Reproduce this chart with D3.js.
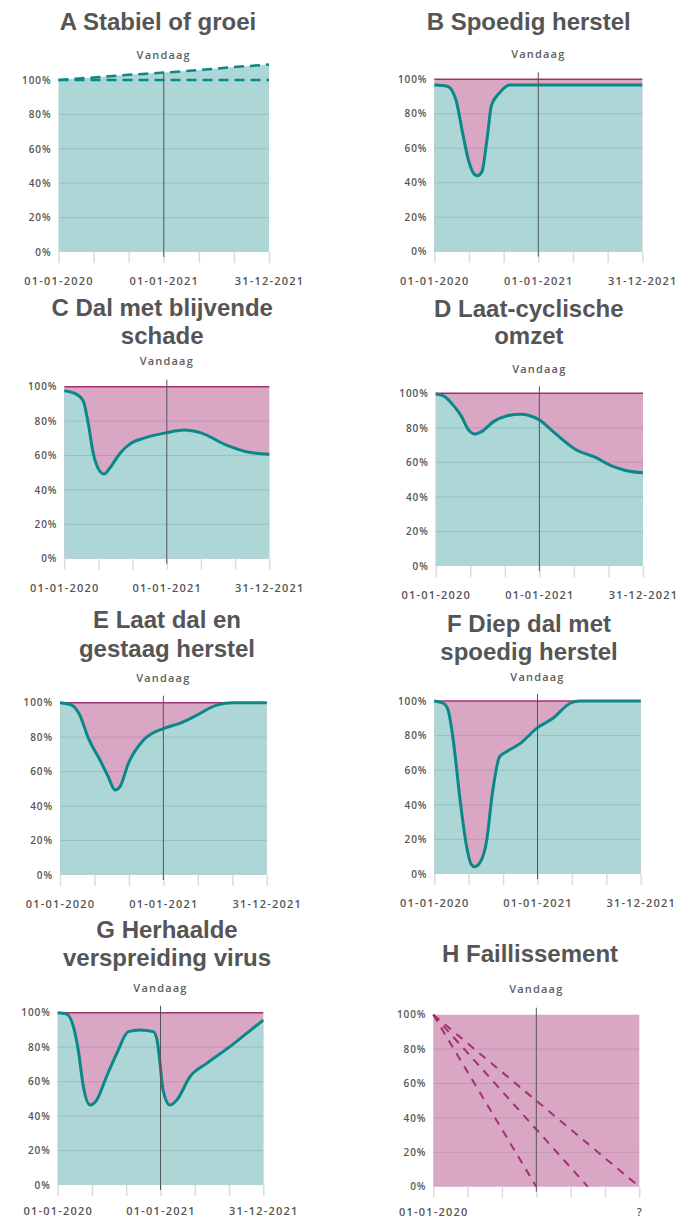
<!DOCTYPE html>
<html><head><meta charset="utf-8">
<script src="https://cdn.jsdelivr.net/npm/d3@7"></script>
<style>body{margin:0;background:#fff} svg{display:block}</style>
</head><body><svg id="c" width="680" height="1219"></svg>
<script>
// ---------- data ----------
const xTicks = [0, 4, 8, 12, 16, 20, 24];           // months since 01-01-2020
const xLabels = {0: "01-01-2020", 12: "01-01-2021", 24: "31-12-2021"};
const hLabels = {0: "01-01-2020", 24: "?"};
const yTicks = [0, 20, 40, 60, 80, 100];
const gridTicks = [20, 40, 60, 80];
const todayMonth = 12;
const todayLabel = "Vandaag";

const titleA = ["A Stabiel of groei"];
const titleB = ["B Spoedig herstel"];
const titleC = ["C Dal met blijvende", "schade"];
const titleD = ["D Laat-cyclische", "omzet"];
const titleE = ["E Laat dal en", "gestaag herstel"];
const titleF = ["F Diep dal met", "spoedig herstel"];
const titleG = ["G Herhaalde", "verspreiding virus"];
const titleH = ["H Faillissement"];

const aFlatMonths = [0, 24];
const aFlatValues = [100, 100];
const aGrowthMonths = [0, 4, 8, 12, 16, 20, 24];
const aGrowthValues = [100, 101.5, 103, 104.3, 105.8, 107.5, 109];

const bMonths = [0, 1.5, 2.5, 3.3, 4, 4.6, 5.0, 5.5, 6.1, 6.6, 7.5, 8.7, 12, 24];
const bValues = [96.7, 96, 88, 68, 52, 45, 44, 46.5, 66, 85, 92, 96.7, 96.7, 96.7];

const cMonths = [0, 1.4, 2.2, 2.8, 3.4, 4.2, 4.65, 5.3, 6.5, 7.9, 9.25, 12, 14.1, 15.9, 19, 21.3, 24];
const cValues = [97.7, 95.7, 92, 78.7, 61, 50.6, 49.2, 52.5, 61.2, 67.4, 70, 73.3, 74.8, 73.3, 66, 62.2, 60.7];

const dMonths = [0, 0.9, 2.05, 3, 3.8, 4.55, 5.3, 6.7, 8.2, 9.8, 10.9, 12, 13.6, 16.3, 18.3, 20.6, 22.1, 24];
const dValues = [99.6, 98.5, 93, 86.5, 78.8, 76.4, 77.8, 83.6, 86.9, 87.8, 87, 84.6, 77.8, 67.2, 63.3, 57.5, 55.2, 54];

const eMonths = [0, 1.35, 2.3, 3.3, 4.65, 5.6, 6.4, 6.97, 7.94, 9.7, 12, 13.9, 15.9, 18.2, 20.1, 24];
const eValues = [100, 98.6, 92.8, 79.3, 66.7, 57, 49.3, 51.3, 64.8, 78.3, 85, 88, 92.8, 98.6, 100, 100];

const fMonths = [0, 1.05, 1.6, 2.2, 3, 3.76, 4.3, 4.7, 5.3, 6.1, 6.7, 7.6, 8.4, 10, 11.9, 13.8, 15.8, 16.9, 24];
const fValues = [100, 98.7, 94.8, 77.5, 42.8, 15.8, 5.5, 4.2, 6.5, 19.7, 44.7, 67.8, 70.7, 75.5, 84.2, 90, 98.7, 100, 100];

const gMonths = [0, 1.05, 1.83, 2.4, 3, 3.77, 4.55, 5.7, 6.9, 8.25, 9.6, 11.16, 11.6, 11.9, 12.3, 13.1, 13.9, 15.45, 17.4, 20.1, 22.05, 24];
const gValues = [100, 99.2, 91.9, 78.3, 57, 46.4, 49.3, 62.9, 76.4, 89, 90, 89, 84, 72.5, 55, 46.4, 49.3, 62.9, 70.6, 80.3, 88, 95.7];

const hStartMonth = 0, hStartValue = 100;
const hEndMonths = [12, 18, 24];
const hEndValue = 0;

// ---------- style ----------
const TEAL_FILL = "#acd7d6", PINK_FILL = "#d9a6c4";
const TEAL_LINE = "#0a8888", MAGENTA = "#a3306f";
const TEXT = "#555", GRID = "rgba(40,40,60,0.13)";
const AX_FONT = "'Open Sans', sans-serif";

// ---------- layout ----------
const panels = [
  {title: titleA, tx: 158,   ty: [30],            vy: 59.3,  l: 58.5,  r: 269,   t: 80,     b: 252,    lab: 29, kind: "A"},
  {title: titleB, tx: 528.7, ty: [30],            vy: 58.3,  l: 434.3, r: 642.3, t: 79.3,   b: 251.7,  lab: 29, kind: "curve", m: bMonths, v: bValues},
  {title: titleC, tx: 162.2, ty: [316, 344],      vy: 365,   l: 64.3,  r: 269.3, t: 386.7,  b: 558.7,  lab: 29, kind: "curve", m: cMonths, v: cValues},
  {title: titleD, tx: 528.8, ty: [316.7, 344.3],  vy: 372.7, l: 435.7, r: 643,   t: 393.3,  b: 566,    lab: 29, kind: "curve", m: dMonths, v: dValues},
  {title: titleE, tx: 167,   ty: [628.3, 656.7],  vy: 681.7, l: 60,    r: 266.7, t: 702.7,  b: 875,    lab: 29, kind: "curve", m: eMonths, v: eValues},
  {title: titleF, tx: 529,   ty: [631.7, 660],    vy: 681,   l: 434.3, r: 640.7, t: 701,    b: 874,    lab: 29, kind: "curve", m: fMonths, v: fValues},
  {title: titleG, tx: 167,   ty: [938.3, 966],    vy: 991.7, l: 57.7,  r: 263.3, t: 1012.7, b: 1185,   lab: 26.5, kind: "curve", m: gMonths, v: gValues},
  {title: titleH, tx: 530,   ty: [962.3],         vy: 993.3, l: 433.3, r: 639.3, t: 1014.7, b: 1186.7, lab: 25, kind: "H"}
];

const svg = d3.select("#c");
const zip = (ms, vs) => ms.map((m, i) => [m, vs[i]]);

panels.forEach(p => {
  const g = svg.append("g");
  const x = d3.scaleLinear().domain([0, 24]).range([p.l, p.r]);
  const y = d3.scaleLinear().domain([0, 100]).range([p.b, p.t]);

  // title
  p.title.forEach((line, i) => {
    g.append("text").attr("x", p.tx).attr("y", p.ty[i]).attr("text-anchor", "middle")
      .attr("font-family", "'Liberation Sans', Arial, sans-serif").attr("font-weight", "bold")
      .attr("font-size", 24).attr("fill", TEXT).text(line);
  });

  const areaUnder = d3.area().x(d => x(d[0])).y0(y(0)).y1(d => y(d[1])).curve(d3.curveMonotoneX);
  const areaFlat = d3.area().x(d => x(d[0])).y0(y(0)).y1(d => y(d[1]));
  const lineGen = d3.line().x(d => x(d[0])).y(d => y(d[1])).curve(d3.curveMonotoneX);
  const lineStraight = d3.line().x(d => x(d[0])).y(d => y(d[1]));

  if (p.kind === "A") {
    g.append("path").datum(zip(aGrowthMonths, aGrowthValues)).attr("d", areaUnder).attr("fill", TEAL_FILL);
  } else {
    g.append("path").datum(zip([0, 24], [100, 100])).attr("d", areaFlat).attr("fill", PINK_FILL);
    if (p.kind === "curve") {
      g.append("path").datum(zip(p.m, p.v)).attr("d", areaUnder).attr("fill", TEAL_FILL);
    }
  }

  // gridlines
  g.selectAll(".grid").data(gridTicks).join("line")
    .attr("x1", p.l).attr("x2", p.r).attr("y1", d => y(d)).attr("y2", d => y(d))
    .attr("stroke", GRID).attr("stroke-width", 1);

  if (p.kind === "A") {
    g.append("path").datum(zip(aFlatMonths, aFlatValues)).attr("d", lineGen)
      .attr("fill", "none").attr("stroke", TEAL_LINE).attr("stroke-width", 2.5).attr("stroke-dasharray", "10,6");
    g.append("path").datum(zip(aGrowthMonths, aGrowthValues)).attr("d", lineGen)
      .attr("fill", "none").attr("stroke", TEAL_LINE).attr("stroke-width", 2.5).attr("stroke-dasharray", "10,6");
  } else if (p.kind === "curve") {
    g.append("line").attr("x1", p.l).attr("x2", p.r).attr("y1", y(100)).attr("y2", y(100))
      .attr("stroke", MAGENTA).attr("stroke-width", 1.6);
    g.append("path").datum(zip(p.m, p.v)).attr("d", lineGen)
      .attr("fill", "none").attr("stroke", TEAL_LINE).attr("stroke-width", 3).attr("stroke-linejoin", "round");
  } else if (p.kind === "H") {
    hEndMonths.forEach(em => {
      g.append("path").datum([[hStartMonth, hStartValue], [em, hEndValue]]).attr("d", lineStraight)
        .attr("fill", "none").attr("stroke", MAGENTA).attr("stroke-width", 2).attr("stroke-dasharray", "8,7");
    });
  }

  // x axis
  const labels = p.kind === "H" ? hLabels : xLabels;
  const ax = g.append("g").attr("transform", `translate(0,${p.b})`)
    .call(d3.axisBottom(x).tickValues(xTicks).tickSize(11).tickFormat(d => labels[d] || ""));
  ax.select(".domain").remove();
  ax.selectAll(".tick line").attr("stroke", "#dcdcdc").attr("stroke-width", 1.5);
  ax.selectAll(".tick text").attr("y", p.lab).attr("dy", "0.35em")
    .attr("font-family", AX_FONT).attr("font-weight", 600).attr("font-size", 11)
    .attr("letter-spacing", "1.2px").attr("fill", TEXT);

  // y axis
  const ay = g.append("g").attr("transform", `translate(${p.l},0)`)
    .call(d3.axisLeft(y).tickValues(yTicks).tickSize(0).tickPadding(7).tickFormat(d => d + "%"));
  ay.select(".domain").remove();
  ay.selectAll(".tick text").attr("font-family", AX_FONT).attr("font-weight", 600).attr("font-size", 10)
    .attr("letter-spacing", "0.9px").attr("fill", TEXT);

  // today line + label
  g.append("line").attr("x1", x(todayMonth)).attr("x2", x(todayMonth))
    .attr("y1", p.t - 7).attr("y2", p.b + 5).attr("stroke", "#555").attr("stroke-width", 1);
  g.append("text").attr("x", x(todayMonth)).attr("y", p.vy).attr("text-anchor", "middle")
    .attr("font-family", AX_FONT).attr("font-weight", 600).attr("font-size", 11)
    .attr("letter-spacing", "1.2px").attr("fill", "#5e5e5e").text(todayLabel);
});
</script></body></html>
